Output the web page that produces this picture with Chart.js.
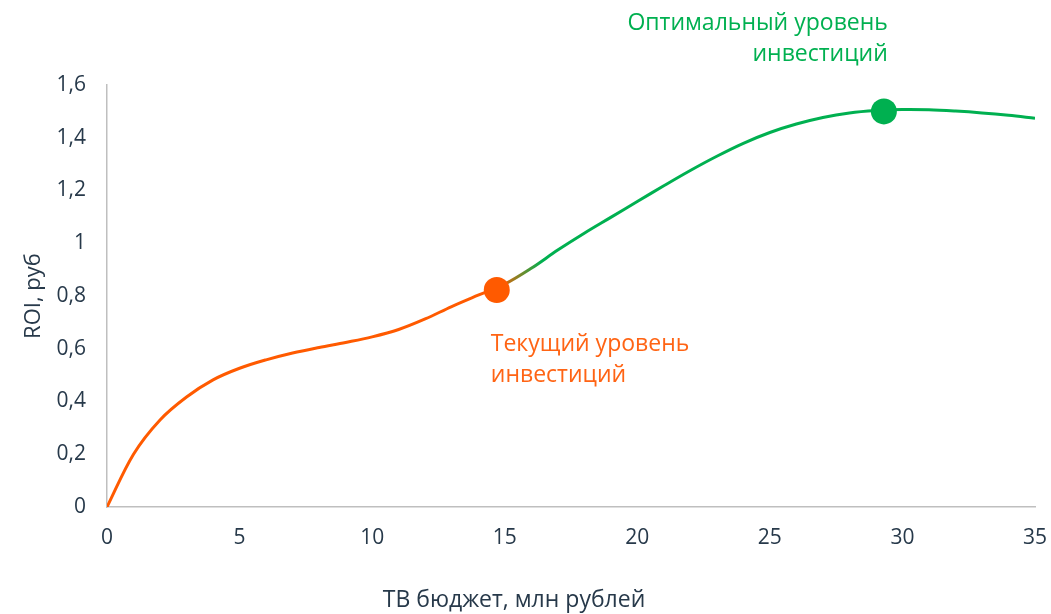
<!DOCTYPE html>
<html>
<head>
<meta charset="utf-8">
<script src="https://cdn.jsdelivr.net/npm/chart.js@4/dist/chart.umd.min.js"></script>
<style>
  html, body { margin: 0; padding: 0; background: #ffffff; }
  #wrap { position: relative; width: 1051px; height: 614px; }
</style>
</head>
<body>
<div id="wrap"><canvas id="c" width="1051" height="614"></canvas></div>
<script>
// ---- Data ----
const budget = [0,1,2,3,4,5,6,7,8,9,10,11,12,13,14,15,16,17,18,19,20,21,22,23,24,25,26,27,28,29,30,31,32,33,34,35];
const roi = [0,0.20,0.33,0.417,0.482,0.526,0.558,0.584,0.605,0.624,0.645,0.673,0.713,0.760,0.803,0.845,0.905,0.974,1.038,1.098,1.158,1.218,1.276,1.330,1.379,1.420,1.452,1.477,1.494,1.503,1.507,1.506,1.501,1.494,1.485,1.474];
const currentPoint = [14.7, 0.823];
const optimalPoint = [29.3, 1.50];
const currentLabel = ['Текущий уровень', 'инвестиций'];
const optimalLabel = ['Оптимальный уровень', 'инвестиций'];
const xTitle = 'ТВ бюджет, млн рублей';
const yTitle = 'ROI, руб';
const xTicks = [0, 5, 10, 15, 20, 25, 30, 35];
const yTicks = [0, 0.2, 0.4, 0.6, 0.8, 1, 1.2, 1.4, 1.6];

const ORANGE = '#FF5A00';
const ORANGE_TXT = '#FF6414';
const GREEN = '#00B050';
const TXT = '#27394A';
const FONT = "'Open Sans', 'Noto Sans', sans-serif";

const curveData = budget.map((b, i) => ({ x: b, y: roi[i] }));

function lineGradient(ctx) {
  const chart = ctx.chart;
  const area = chart.chartArea;
  if (!area) return ORANGE;
  const xs = chart.scales.x;
  const x0 = xs.getPixelForValue(xTicks[0]);
  const x1 = xs.getPixelForValue(xTicks[xTicks.length - 1]);
  const g = chart.ctx.createLinearGradient(x0, 0, x1, 0);
  const span = xTicks[xTicks.length - 1] - xTicks[0];
  g.addColorStop(0, ORANGE);
  g.addColorStop(currentPoint[0] / span, ORANGE);
  g.addColorStop((currentPoint[0] + 1.7) / span, GREEN);
  g.addColorStop(1, GREEN);
  return g;
}

const labelPlugin = {
  id: 'labels',
  afterDatasetsDraw(chart) {
    const c = chart.ctx;
    const xs = chart.scales.x, ys = chart.scales.y;
    c.save();
    c.font = '23px ' + FONT;
    c.textBaseline = 'alphabetic';
    // current level label
    const cx = xs.getPixelForValue(currentPoint[0]);
    const cy = ys.getPixelForValue(currentPoint[1]);
    c.fillStyle = ORANGE_TXT;
    c.textAlign = 'left';
    c.fillText(currentLabel[0], cx - 6, cy + 61);
    c.fillText(currentLabel[1], cx - 6, cy + 92);
    // optimal level label
    const ox = xs.getPixelForValue(optimalPoint[0]);
    const oy = ys.getPixelForValue(optimalPoint[1]);
    c.fillStyle = GREEN;
    c.textAlign = 'right';
    c.fillText(optimalLabel[0], ox + 4, oy - 81);
    c.fillText(optimalLabel[1], ox + 4, oy - 50);
    // x axis title
    c.fillStyle = TXT;
    c.textAlign = 'center';
    c.font = '23px ' + FONT;
    c.fillText(xTitle, 514, 607);
    c.restore();
  }
};

new Chart(document.getElementById('c'), {
  type: 'scatter',
  data: {
    datasets: [
      {
        data: [{ x: currentPoint[0], y: currentPoint[1] }],
        pointRadius: 13, pointHoverRadius: 13,
        backgroundColor: ORANGE, borderColor: ORANGE, borderWidth: 0
      },
      {
        data: [{ x: optimalPoint[0], y: optimalPoint[1] }],
        pointRadius: 13, pointHoverRadius: 13,
        backgroundColor: GREEN, borderColor: GREEN, borderWidth: 0
      },
      {
        data: curveData,
        showLine: true,
        pointRadius: 0,
        borderWidth: 3,
        borderColor: lineGradient,
        tension: 0.35,
        fill: false
      }
    ]
  },
  options: {
    responsive: false,
    animation: false,
    events: [],
    layout: { padding: { top: 85, right: 16, left: 0, bottom: 0 } },
    plugins: { legend: { display: false }, tooltip: { enabled: false } },
    scales: {
      x: {
        type: 'linear',
        min: xTicks[0], max: xTicks[xTicks.length - 1],
        afterFit: (s) => { s.height = 107; s.paddingRight = 0; s.paddingLeft = 0; },
        afterBuildTicks: (s) => { s.ticks = xTicks.map(v => ({ value: v })); },
        grid: { display: false, drawTicks: false },
        border: { display: true, color: '#BFBFBF', width: 1.5 },
        ticks: { padding: 18, color: TXT, font: { family: FONT, size: 21 } }
      },
      y: {
        min: yTicks[0], max: yTicks[yTicks.length - 1],
        afterFit: (s) => { s.width = 107; },
        afterBuildTicks: (s) => { s.ticks = yTicks.map(v => ({ value: v })); },
        grid: { display: false, drawTicks: false },
        border: { display: true, color: '#BFBFBF', width: 1.5 },
        ticks: {
          padding: 21, color: TXT, font: { family: FONT, size: 21 },
          callback: (v) => String(Math.round(v * 10) / 10).replace('.', ',')
        },
        title: { display: true, text: yTitle, color: TXT, font: { family: FONT, size: 22 }, padding: { top: 21, bottom: 0 } }
      }
    }
  },
  plugins: [labelPlugin]
});
</script>
</body>
</html>
